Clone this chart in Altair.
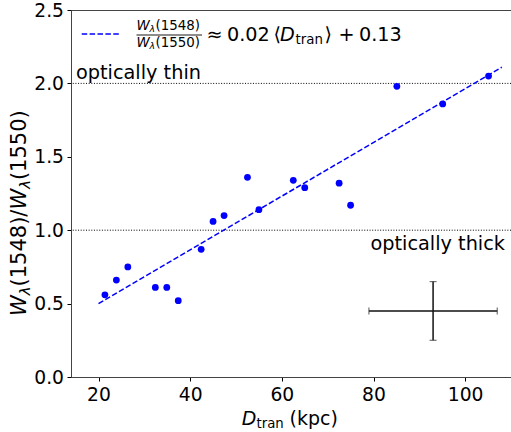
import altair as alt
import pandas as pd

# ---- data ----
D_tran = [21.4, 23.9, 26.4, 32.4, 34.9, 37.4, 42.4, 45.0, 47.4, 52.5, 55.0,
          62.5, 65.0, 72.5, 75.0, 85.1, 95.1, 105.1]
ratio = [0.56, 0.66, 0.75, 0.61, 0.61, 0.52, 0.87, 1.06, 1.10, 1.36, 1.14,
         1.34, 1.29, 1.32, 1.17, 1.98, 1.86, 2.05]

fit_x = [20.0, 108.0]
fit_y = [0.50, 2.11]

ref_levels = [1.0, 2.0]
ref_labels = ["optically thick", "optically thin"]

err_x = [93.0]
err_y = [0.45]
err_dx = [14.0]
err_dy = [0.20]

x_ticks = [20, 40, 60, 80, 100]
y_ticks = [0.0, 0.5, 1.0, 1.5, 2.0, 2.5]

FONT = "DejaVu Sans"
BLUE = "#0000ff"
OX, OY = 71, 10  # plot-area origin on the page

pts = pd.DataFrame({"D": D_tran, "R": ratio})
fit = pd.DataFrame({"D": fit_x, "R": fit_y})
refs = pd.DataFrame({"R": ref_levels, "label": ref_labels})
err = pd.DataFrame({"D": err_x, "R": err_y, "dx": err_dx, "dy": err_dy})
err["x_lo"] = err["D"] - err["dx"]
err["x_hi"] = err["D"] + err["dx"]
err["y_lo"] = err["R"] - err["dy"]
err["y_hi"] = err["R"] + err["dy"]
one = pd.DataFrame({"v": [0]})

xscale = alt.Scale(domain=[14, 110], nice=False, zero=False)
yscale = alt.Scale(domain=[0, 2.5], nice=False, zero=False)
xaxis = alt.Axis(values=x_ticks, title=None, grid=False, format="d")
yaxis = alt.Axis(values=y_ticks, title=None, grid=False, format=".1f")


def X(field):
    return alt.X(field, type="quantitative", scale=xscale, axis=xaxis)


def Y(field):
    return alt.Y(field, type="quantitative", scale=yscale, axis=yaxis)


points = alt.Chart(pts).mark_circle(size=46, color=BLUE, opacity=1).encode(
    x=X("D"), y=Y("R"))

fit_line = alt.Chart(fit).mark_line(
    color=BLUE, strokeDash=[5.5, 2.4], strokeWidth=1.5).encode(x=X("D"), y=Y("R"))

ref_rules = alt.Chart(refs).mark_rule(
    color="black", strokeDash=[1, 1.65], strokeWidth=1).encode(y=Y("R"))

ERRC = "#111111"
err_h = alt.Chart(err).mark_rule(color=ERRC, strokeWidth=1.5).encode(
    x=X("x_lo"), x2="x_hi", y=Y("R"))
err_v = alt.Chart(err).mark_rule(color=ERRC, strokeWidth=1.5).encode(
    x=X("D"), y=Y("y_lo"), y2="y_hi")
cap_l = alt.Chart(err).mark_tick(orient="vertical", size=7, thickness=1.2, color="#333333").encode(
    x=X("x_lo"), y=Y("R"))
cap_r = alt.Chart(err).mark_tick(orient="vertical", size=7, thickness=1.2, color="#333333").encode(
    x=X("x_hi"), y=Y("R"))
cap_b = alt.Chart(err).mark_tick(orient="horizontal", size=7, thickness=1.2, color="#333333").encode(
    x=X("D"), y=Y("y_lo"))
cap_t = alt.Chart(err).mark_tick(orient="horizontal", size=7, thickness=1.2, color="#333333").encode(
    x=X("D"), y=Y("y_hi"))

thin_lbl = alt.Chart(refs[refs["label"] == "optically thin"]).mark_text(
    font=FONT, fontSize=19.3, align="left", baseline="alphabetic", dy=-4.5, color="black"
).encode(x=alt.value(76 - OX), y=Y("R"), text="label:N")
thick_lbl = alt.Chart(refs[refs["label"] == "optically thick"]).mark_text(
    font=FONT, fontSize=19.3, align="right", baseline="alphabetic", dy=20, color="black"
).encode(x=alt.value(505 - OX), y=Y("R"), text="label:N")


def txt(s, px, py, size, italic=False, angle=0):
    props = dict(text=s, font=FONT, fontSize=size, align="left",
                 baseline="alphabetic", color="black",
                 fontStyle="italic" if italic else "normal")
    if angle:
        props["angle"] = angle
    return alt.Chart(one).mark_text(**props).encode(
        x=alt.value(px - OX), y=alt.value(py - OY))


def rule(px1, px2, py, dash=None, color="black", width=1.0):
    props = dict(color=color, strokeWidth=width)
    if dash:
        props["strokeDash"] = dash
    return alt.Chart(one).mark_rule(**props).encode(
        x=alt.value(px1 - OX), x2=alt.value(px2 - OX), y=alt.value(py - OY))


# x-axis title: D_tran (kpc)
xt = [
    txt("D", 241.7, 425, 19, italic=True),
    txt("tran", 256.5, 428, 13.3),
    txt("(kpc)", 289.5, 425, 19),
]

# y-axis title: W_lambda(1548)/W_lambda(1550), rotated
YS, YSUB = 21, 14.7
yt = [
    txt("W", 26, 316, YS, italic=True, angle=270),
    txt("λ", 29.5, 295.2, YSUB, italic=True, angle=270),
    txt("(1548)/", 26, 286.5, YS, angle=270),
    txt("W", 26, 209.6, YS, italic=True, angle=270),
    txt("λ", 29.5, 188.8, YSUB, italic=True, angle=270),
    txt("(1550)", 26, 180.1, YS, angle=270),
]

# legend
FS, FSUB, FSS = 19.2, 13.4, 9.4
leg = [
    rule(81.7, 120, 34, dash=[5.5, 2.4], color=BLUE, width=1.5),
    txt("W", 136.5, 30, FSUB, italic=True),
    txt("λ", 149.5, 32, FSS, italic=True),
    txt("(1548)", 155.5, 30, FSUB),
    rule(136.5, 202, 35, width=0.9),
    txt("W", 136.5, 46.5, FSUB, italic=True),
    txt("λ", 149.5, 48.5, FSS, italic=True),
    txt("(1550)", 155.5, 46.5, FSUB),
    txt("≈", 206.5, 40.5, FS),
    txt("0.02", 227, 40.5, FS),
    txt("⟨", 273.5, 40.5, FS),
    txt("D", 280, 40.5, FS, italic=True),
    txt("tran", 295.5, 43.5, FSUB),
    txt("⟩", 324.5, 40.5, FS),
    txt("+", 338.5, 40.5, FS),
    txt("0.13", 359, 40.5, FS),
]

chart = alt.layer(
    ref_rules, fit_line, points, err_h, err_v, cap_l, cap_r, cap_b, cap_t,
    thin_lbl, thick_lbl, *xt, *yt, *leg
).properties(
    width=440, height=367,
    autosize=alt.AutoSizeParams(type="none"),
    padding={"left": OX, "top": OY, "right": 0, "bottom": 55},
    background="white",
).configure_axis(
    labelFont=FONT, labelFontSize=18.7, labelColor="black",
    tickColor="black", tickSize=4, tickWidth=1,
    domainColor="#444444", domainWidth=1, labelPadding=3.5,
).configure_axisX(labelPadding=4).configure_view(
    stroke="#444444", strokeWidth=1
)

chart.save("out.html", embed_options={"renderer": "svg", "actions": False})
